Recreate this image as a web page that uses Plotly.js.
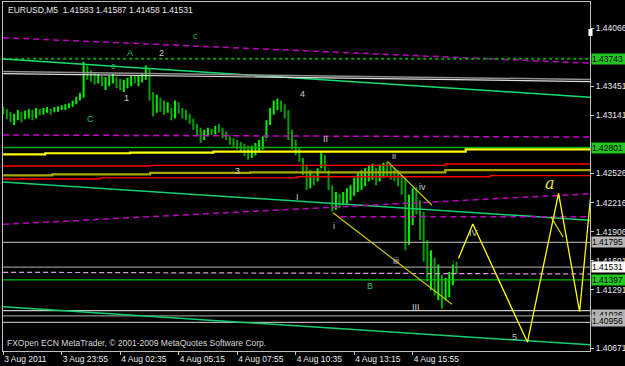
<!DOCTYPE html>
<html><head><meta charset="utf-8">
<script src="https://cdn.plot.ly/plotly-3.0.1.min.js"></script>
<style>html,body{margin:0;padding:0;background:#000;}#chart{width:625px;height:366px;}</style>
</head><body><div id="chart"></div>
<script>
// ---- price bars (one point per two M5 bars) ----
const barOpen = [1.4320,1.4317,1.4314,1.4309,1.4311,1.4317,1.4313,1.4316,1.4318,1.4314,1.4319,1.4317,1.4320,1.4321,1.4318,1.4321,1.4322,1.4323,1.4324,1.4326,
1.4329,1.4333,1.4336,1.4364,1.4356,1.4354,1.4352,1.4354,1.4350,1.4352,1.4353,1.4355,1.4348,1.4345,1.4348,1.4351,1.4353,1.4352,1.4354,1.4356,
1.4362,1.4335,1.4326,1.4330,1.4324,1.4322,1.4325,1.4314,1.4326,1.4320,1.4316,1.4314,1.4309,1.4301,1.4297,1.4294,1.4297,1.4299,1.4297,1.4301,
1.4299,1.4293,1.4290,1.4286,1.4284,1.4282,1.4280,1.4275,1.4272,1.4278,1.4280,1.4283,1.4288,1.4305,1.4318,1.4326,1.4328,1.4324,1.4315,1.4292,
1.4282,1.4278,1.4267,1.4256,1.4241,1.4250,1.4246,1.4256,1.4271,1.4258,1.4239,1.4219,1.4227,1.4220,1.4229,1.4233,1.4237,1.4244,1.4248,1.4252,
1.4254,1.4256,1.4258,1.4248,1.4256,1.4261,1.4258,1.4254,1.4250,1.4246,1.4235,1.4182,1.4219,1.4230,1.4216,1.4187,1.4166,1.4145,1.4159,1.4129,
1.4140,1.4118,1.4134,1.4142,1.41583];
const barHigh = [1.4323,1.4321,1.4318,1.4316,1.4320,1.4318,1.4319,1.4321,1.4320,1.4322,1.4321,1.4322,1.4323,1.4321,1.4323,1.4324,1.4325,1.4326,1.4327,1.4330,
1.4334,1.4338,1.4371,1.4367,1.4362,1.4360,1.4358,1.4356,1.4355,1.4356,1.4358,1.4354,1.4353,1.4352,1.4354,1.4356,1.4357,1.4356,1.4358,1.4367,
1.4364,1.4339,1.4336,1.4333,1.4330,1.4328,1.4322,1.4330,1.4328,1.4322,1.4320,1.4316,1.4311,1.4305,1.4301,1.4299,1.4301,1.4300,1.4303,1.4305,
1.4301,1.4297,1.4292,1.4290,1.4288,1.4286,1.4284,1.4282,1.4282,1.4285,1.4288,1.4292,1.4309,1.4322,1.4330,1.4332,1.4330,1.4326,1.4320,1.4299,
1.4288,1.4280,1.4269,1.4262,1.4256,1.4251,1.4258,1.4275,1.4272,1.4256,1.4240,1.4233,1.4231,1.4233,1.4237,1.4240,1.4248,1.4254,1.4256,1.4258,
1.4261,1.4263,1.4258,1.4262,1.4264,1.4265,1.4262,1.4258,1.4256,1.4251,1.4248,1.4230,1.4237,1.4238,1.4224,1.4212,1.4182,1.4171,1.4163,1.4156,
1.4145,1.4142,1.4148,1.4156,1.41587];
const barLow = [1.4315,1.4310,1.4307,1.4304,1.4309,1.4307,1.4310,1.4311,1.4309,1.4311,1.4314,1.4315,1.4317,1.4315,1.4318,1.4318,1.4320,1.4320,1.4322,1.4323,
1.4326,1.4330,1.4333,1.4352,1.4350,1.4347,1.4348,1.4345,1.4341,1.4345,1.4348,1.4343,1.4341,1.4339,1.4343,1.4345,1.4348,1.4345,1.4349,1.4352,
1.4330,1.4313,1.4317,1.4318,1.4315,1.4317,1.4309,1.4311,1.4316,1.4311,1.4309,1.4305,1.4299,1.4293,1.4285,1.4288,1.4292,1.4293,1.4294,1.4296,
1.4290,1.4288,1.4283,1.4281,1.4278,1.4275,1.4271,1.4267,1.4269,1.4272,1.4275,1.4278,1.4290,1.4304,1.4315,1.4320,1.4318,1.4311,1.4288,1.4278,
1.4272,1.4265,1.4251,1.4235,1.4237,1.4240,1.4244,1.4258,1.4254,1.4235,1.4212,1.4214,1.4216,1.4219,1.4220,1.4224,1.4229,1.4233,1.4235,1.4239,
1.4244,1.4246,1.4240,1.4244,1.4248,1.4250,1.4246,1.4244,1.4239,1.4230,1.4171,1.4177,1.4198,1.4209,1.4182,1.4159,1.4138,1.4129,1.4123,1.4118,
1.4109,1.4118,1.4121,1.4134,1.41458];
const barClose = [1.4317,1.4314,1.4309,1.4311,1.4317,1.4313,1.4316,1.4318,1.4314,1.4319,1.4317,1.4320,1.4321,1.4318,1.4321,1.4322,1.4323,1.4324,1.4326,1.4329,
1.4333,1.4336,1.4364,1.4356,1.4354,1.4352,1.4354,1.4350,1.4352,1.4353,1.4355,1.4348,1.4345,1.4348,1.4351,1.4353,1.4352,1.4354,1.4356,1.4362,
1.4335,1.4326,1.4330,1.4324,1.4322,1.4325,1.4314,1.4326,1.4320,1.4316,1.4314,1.4309,1.4301,1.4297,1.4294,1.4297,1.4299,1.4297,1.4301,1.4299,
1.4293,1.4290,1.4286,1.4284,1.4282,1.4280,1.4275,1.4272,1.4278,1.4280,1.4283,1.4288,1.4305,1.4318,1.4326,1.4328,1.4324,1.4315,1.4292,1.4282,
1.4278,1.4267,1.4256,1.4241,1.4250,1.4246,1.4256,1.4271,1.4258,1.4239,1.4219,1.4227,1.4220,1.4229,1.4233,1.4237,1.4244,1.4248,1.4252,1.4254,
1.4256,1.4258,1.4248,1.4256,1.4261,1.4258,1.4254,1.4250,1.4246,1.4235,1.4182,1.4219,1.4230,1.4216,1.4187,1.4166,1.4145,1.4159,1.4129,1.4140,
1.4118,1.4134,1.4142,1.4159,1.41531];
const barsPerPoint = 2;
const barIndex = barOpen.map((_, i) => i * barsPerPoint);

// ---- axes ----
const timeTickBars = [0, 32, 64, 96, 128, 160, 192, 224];
const timeTickText = ['3 Aug 2011','3 Aug 23:55','4 Aug 02:35','4 Aug 05:15','4 Aug 07:55','4 Aug 10:35','4 Aug 13:15','4 Aug 15:55'];
const priceTicks = [1.44066,1.43451,1.43141,1.42526,1.42216,1.41906,1.41601,1.41291,1.40671];

// ---- indicator / object lines (price at left and right edge) ----
const spanX = [0, 321];
const magentaTop = [1.43966, 1.43696];
const channelUpper = [1.43740, 1.43335];
const channelMiddle = [1.42435, 1.42030];
const channelLower = [1.41112, 1.40707];
const grayUpperA = [1.43607, 1.43523];
const grayUpperB = [1.43586, 1.43501];
const magentaMid = [1.42934, 1.42912];
const magentaRising = [1.41986, 1.42310];
const pinkLow = [1.41477, 1.41459];
const magentaFlatX = [184.4, 321];
const magentaFlat = [1.42067, 1.42067];
const yellowStepX = [0, 23, 69.5, 115, 253, 321];
const yellowStep = [1.42729, 1.42740, 1.42746, 1.42757, 1.42782, 1.42782];
const redUpperX = [0, 80.4, 241.8, 321];
const redUpper = [1.42605, 1.42612, 1.42626, 1.42626];
const oliveX = [0, 26.8, 80.4, 135.1, 241.8, 321];
const olive = [1.42506, 1.42517, 1.42531, 1.42538, 1.42562, 1.42562];
const redLowerX = [0, 53, 160.8, 266.4, 321];
const redLower = [1.42467, 1.42478, 1.42491, 1.42502, 1.42502];
const greenLevels = [1.43743, 1.42801, 1.41397];
const grayLevels = [1.41795, 1.41531, 1.41070, 1.41014, 1.40945];
const trendAX = [180.4, 245.5], trendA = [1.42109, 1.41137];
const trendBX = [210.2, 234.5], trendB = [1.42651, 1.42191];
const zigzagX = [249.1, 256.9, 286.8, 303.8, 315.3, 321.6];
const zigzag = [1.41626, 1.41990, 1.40735, 1.42315, 1.41059, 1.42332];
const zigBranchX = [299.7, 306.3], zigBranch = [1.42064, 1.41852];

// ---- price boxes on the scale ----
const boxValues = [1.43743, 1.42801, 1.41795, 1.41531, 1.41397, 1.41026, 1.40956];
const boxKinds  = ['green','green','gray','white','green','gray','gray'];

// ---- wave labels ----
const waveText = ['A','2','c','c','1','4','C','3','I','II','ii','iv','i','iii','B','III','5','IV'];
const waveBar  = [69.1,86.6,105.2,60.3,67.7,163.6,48.0,128.4,160.8,176.5,213.9,229.2,180.7,215.0,200.8,225.9,279.7,257.3];
const wavePrice= [1.43801,1.43807,1.43987,1.43666,1.43330,1.43369,1.43100,1.42552,1.42279,1.42888,1.42714,1.42387,1.41972,1.41597,1.41332,1.41112,1.40788,1.41891];
const waveKind = ['g','w','g','g','w','w','g','w','w','w','w','w','w','w','g','w','w','y'];

const traces = [];
function line(x, y, color, width, dash, shape) {
  traces.push({type:'scatter', mode:'lines', x:x, y:y, hoverinfo:'skip',
    line:{color:color, width:width, dash:dash||'solid', shape:shape||'linear'}});
}
traces.push({type:'ohlc', x:barIndex, open:barOpen, high:barHigh, low:barLow, close:barClose,
  increasing:{line:{color:'#00f000', width:2}}, decreasing:{line:{color:'#00a000', width:2}},
  tickwidth:0.2, hoverinfo:'skip'});

line(spanX, magentaTop, '#c000c0', 1.5, '6px,4px');
line(spanX, [greenLevels[0], greenLevels[0]], '#00a000', 2, 'dot');
line(spanX, channelUpper, '#10e070', 1.5);
line(spanX, grayUpperA, '#909090', 1.5);
line(spanX, grayUpperB, '#e0e0e0', 1.2);
line(spanX, magentaMid, '#d000d0', 1.5, '6px,4px');
line(spanX, [greenLevels[1], greenLevels[1]], '#00b000', 1.5);
line(yellowStepX, yellowStep, '#ffff00', 2.2, 'solid', 'hv');
line(redUpperX, redUpper, '#ff0000', 1.3, 'solid', 'hv');
line(oliveX, olive, '#a8a800', 2.2, 'solid', 'hv');
line(redLowerX, redLower, '#ff0000', 1.3, 'solid', 'hv');
line(spanX, channelMiddle, '#10d070', 1.5);
line(spanX, magentaRising, '#c000c0', 1.5, '6px,4px');
line(magentaFlatX, magentaFlat, '#c000c0', 1.5, '6px,4px');
line(spanX, [grayLevels[0], grayLevels[0]], '#a0a0a0', 1.3);
line(spanX, [grayLevels[1], grayLevels[1]], '#909090', 1.3);
line(spanX, pinkLow, '#d8a0d8', 1.2, '5px,3px');
line(spanX, [greenLevels[2], greenLevels[2]], '#00c000', 1.3);
line(spanX, [grayLevels[2], grayLevels[2]], '#c8c8c8', 1.3);
line(spanX, [grayLevels[3], grayLevels[3]], '#8c8c8c', 1.3);
line(spanX, [grayLevels[4], grayLevels[4]], '#b0b0b0', 1.3);
line(spanX, channelLower, '#10d070', 1.5);
line(trendAX, trendA, '#c8c800', 1.2);
line(trendBX, trendB, '#c8c800', 1.2);
line(zigzagX, zigzag, '#ffff00', 1.3);
line(zigBranchX, zigBranch, '#e0e000', 1.2);

const tickFont = {family:'Liberation Sans, Arial, sans-serif', size:8.5, color:'#e8e8e8'};
const annotations = [];
const boxColors = {green:'#20c820', gray:'#b4b4b4', white:'#ffffff'};
boxValues.forEach((v, i) => {
  annotations.push({xref:'paper', yref:'y', x:1, y:v, xanchor:'left', yanchor:'middle', xshift:1,
    text:v.toFixed(5), showarrow:false, bgcolor:boxColors[boxKinds[i]], borderpad:0, width:36, align:'left',
    font:{family:tickFont.family, size:8.5, color:'#000'}});
});
const waveColors = {g:'#20c060', w:'#c8c8c8', y:'#d0d0a0'};
waveText.forEach((t, i) => {
  annotations.push({xref:'x', yref:'y', x:waveBar[i], y:wavePrice[i], text:t, showarrow:false,
    font:{family:tickFont.family, size:9, color:waveColors[waveKind[i]]}});
});
annotations.push({xref:'x', yref:'y', x:299.2, y:1.42421, text:'<i>a</i>', showarrow:false,
  font:{family:'DejaVu Serif, serif', size:16, color:'#e8e040'}});
annotations.push({xref:'paper', yref:'paper', x:0.005, y:0.9785, xanchor:'left', yanchor:'middle',
  text:'EURUSD,M5\u00a0\u00a01.41583 1.41587 1.41458 1.41531', showarrow:false,
  font:{family:tickFont.family, size:8.5, color:'#e8e8e8'}});
annotations.push({xref:'paper', yref:'paper', x:0.004, y:0.0229, xanchor:'left', yanchor:'middle',
  text:'FXOpen ECN MetaTrader, \u00a9 2001-2009 MetaQuotes Software Corp.', showarrow:false,
  font:{family:tickFont.family, size:8.5, color:'#d8d8d8'}});

const layout = {
  width:625, height:366, paper_bgcolor:'#000', plot_bgcolor:'#000',
  margin:{l:3, r:35, t:2, b:15, pad:0}, showlegend:false,
  xaxis:{range:[-0.1, 321], tickmode:'array', tickvals:timeTickBars, ticktext:timeTickText,
    ticks:'outside', ticklen:3, tickcolor:'#c0c0c0', showline:true, linecolor:'#c0c0c0', linewidth:1, mirror:true,
    showgrid:false, zeroline:false, tickfont:tickFont, ticklabelposition:'outside right',
    rangeslider:{visible:false}, fixedrange:true},
  yaxis:{side:'right', range:[1.40642, 1.44345], tickmode:'array', tickvals:priceTicks,
    ticktext:priceTicks.map(v => v.toFixed(5)), ticks:'outside', ticklen:3, tickcolor:'#c0c0c0',
    showline:true, linecolor:'#c0c0c0', linewidth:1, mirror:true, showgrid:false, zeroline:false,
    tickfont:tickFont, fixedrange:true},
  annotations:annotations,
  shapes:[{type:'rect', xref:'paper', yref:'paper', x0:0.9974, x1:1.0043, y0:0.9026, y1:0.9226,
    fillcolor:'#ffffff', line:{width:0}}]
};
Plotly.newPlot('chart', traces, layout, {displayModeBar:false, staticPlot:true});
</script></body></html>
